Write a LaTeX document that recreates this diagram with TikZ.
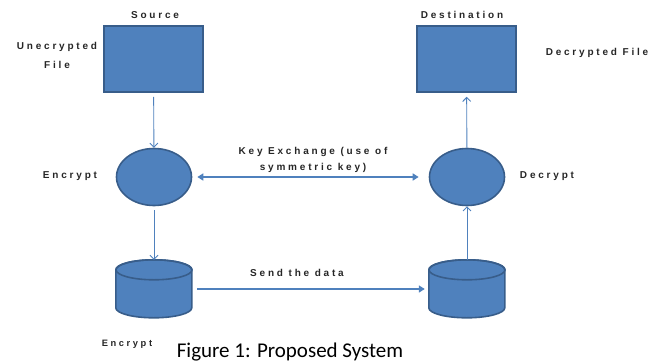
\documentclass[tikz,border=0pt]{standalone}
\usepackage{fontspec}
\setmainfont{Liberation Sans}
\newfontfamily\capfont{Carlito}
\newfontfamily\spfont[LetterSpace=28]{Liberation Sans}
\usetikzlibrary{shapes.geometric, arrows.meta}
\definecolor{boxblue}{HTML}{4F81BD}
\definecolor{edgeblue}{HTML}{385D8A}
% drum outline round a named node
\newcommand{\dbdrum}[1]{%
  \draw[edgeblue, fill=boxblue, line width=1.6pt] (#1.north west) ++(0,10) -- ++(0,38)
    arc[start angle=180, end angle=360, x radius=38pt, y radius=10pt] -- ++(0,-38)
    arc[start angle=0, end angle=180, x radius=38pt, y radius=10pt] -- cycle;
  \draw[edgeblue, line width=1.6pt] ([yshift=-10pt]#1.north) ellipse [x radius=38pt, y radius=10pt];}

\begin{document}
\begin{tikzpicture}[x=1pt, y=-1pt, every node/.style={inner sep=0pt},
  block/.style={rectangle, draw=edgeblue, fill=boxblue, line width=1.6pt, minimum width=99pt, minimum height=66pt},
  crypt/.style={ellipse, draw=edgeblue, fill=boxblue, line width=1.6pt, minimum width=75pt, minimum height=57pt},
  store/.style={rectangle, minimum width=76pt, minimum height=58pt},
  lbl/.style={font=\spfont\bfseries\fontsize{10}{16}\selectfont, text=black!85, align=center},
  thin arrow/.style={draw=boxblue, line width=0.9pt, -{Straight Barb[length=4pt, width=8pt]}},
  thick arrow/.style={draw=boxblue, line width=1.8pt, -{Triangle[length=6pt, width=7pt]}}]
\useasboundingbox (0,0) rectangle (652,361);
% Blocks
\node[block] (src) at (153.5,59) {}; % Source file
\node[block] (dst) at (466.5,59) {}; % Destination file
\node[crypt] (enc) at (154,177) {};
\node[crypt] (dec) at (467,177) {};
\node[store] (encdb) at (154,289) {};
\node[store] (decdb) at (467,289) {};
\dbdrum{encdb}
\dbdrum{decdb}
% Labels
\node[lbl] (srclbl) at (155,15) {Source};
\node[lbl] (dstlbl) at (462,15) {Destination};
\node[lbl, font=\spfont\bfseries\fontsize{10}{19}\selectfont] (plainlbl) at (57,55) {Unecrypted\\File};
\node[lbl] (outlbl) at (597,53) {Decrypted File};
\node[lbl] (enclbl) at (70,176) {Encrypt};
\node[lbl] (declbl) at (547,176) {Decrypt};
\node[lbl, font=\spfont\bfseries\fontsize{9.3}{11}\selectfont] (dblbl) at (127,344) {Encrypt};
\node[lbl] (keylbl) at (313,160) {Key Exchange (use of\\symmetric key)};
\node[lbl] (sendlbl) at (297,273) {Send the data};
\node[font=\capfont\fontsize{21}{24}\selectfont, anchor=base] (cap) at (290,357) {Figure 1: Proposed System};
% Connectors
\draw[thin arrow, shorten <=4pt] (src) -- (enc);
\draw[thin arrow, shorten <=4pt] (enc) -- (encdb);
\draw[thin arrow] (decdb) -- (dec);
\draw[thin arrow, shorten >=4pt] (dec) -- (dst);
\draw[thick arrow, {Triangle[length=6pt, width=7pt]}-{Triangle[length=6pt, width=7pt]}, shorten <=5pt, shorten >=10pt] (enc) -- (dec);
\draw[thick arrow, shorten <=5pt, shorten >=4pt] (encdb) -- (decdb);
\end{tikzpicture}
\end{document}
